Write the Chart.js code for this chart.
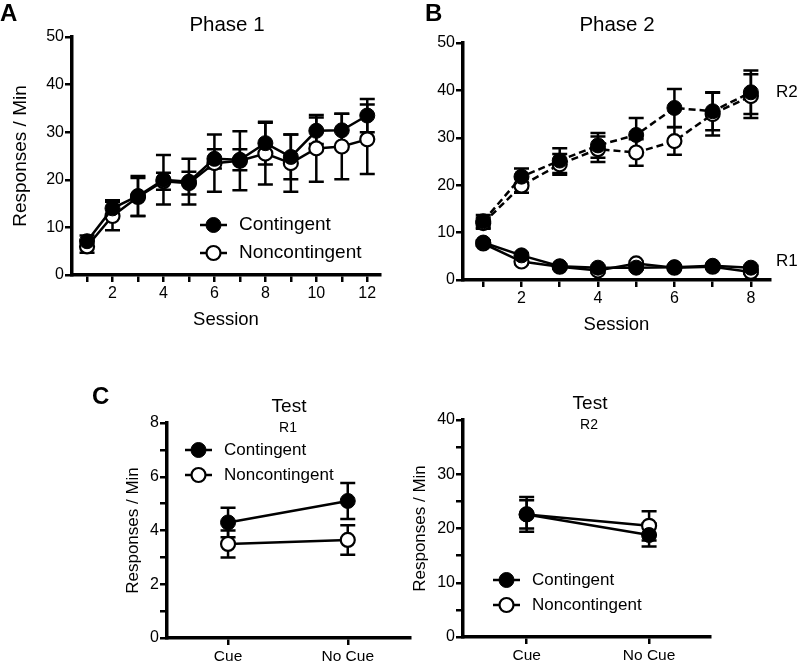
<!DOCTYPE html>
<html>
<head>
<meta charset="utf-8">
<script src="https://cdn.jsdelivr.net/npm/chart.js@4.4.0/dist/chart.umd.min.js"></script>
<style>
  body { margin: 0; background: #fff; }
  #wrap { position: relative; width: 800px; height: 663px; overflow: hidden; }
  .panel { position: absolute; }
</style>
</head>
<body>
<div id="wrap">
  <div class="panel" style="left:0;top:0"><canvas id="chartA" width="400" height="340"></canvas></div>
  <div class="panel" style="left:400px;top:0"><canvas id="chartB" width="400" height="340"></canvas></div>
  <div class="panel" style="left:80px;top:360px"><canvas id="chartC1" width="340" height="303"></canvas></div>
  <div class="panel" style="left:400px;top:360px"><canvas id="chartC2" width="320" height="303"></canvas></div>
</div>
<script>
// Phase 1 (A)
const phase1Sessions = [1, 2, 3, 4, 5, 6, 7, 8, 9, 10, 11, 12];
const phase1Contingent = [7.1, 14.0, 16.6, 20.0, 19.6, 24.4, 24.2, 27.7, 24.8, 30.3, 30.4, 33.5];
const phase1ContingentErr = [1.2, 1.7, 4.2, 5.2, 4.8, 2.0, 2.2, 4.5, 4.7, 2.8, 3.5, 3.5];
const phase1Noncontingent = [6.0, 12.4, 16.4, 19.7, 19.3, 23.5, 24.0, 25.5, 23.5, 26.6, 27.0, 28.5];
const phase1NoncontingentErr = [1.3, 3.0, 4.0, 1.8, 2.4, 6.0, 6.2, 6.5, 6.0, 7.0, 6.9, 7.3];

// Phase 2 (B)
const phase2Sessions = [1, 2, 3, 4, 5, 6, 7, 8];
const phase2R2Contingent = [12.4, 21.8, 25.2, 28.4, 30.6, 36.3, 35.6, 39.6];
const phase2R2ContingentErr = [1.3, 1.7, 2.6, 2.6, 3.6, 4.0, 4.0, 4.6];
const phase2R2Noncontingent = [12.0, 19.9, 24.4, 27.6, 26.9, 29.3, 35.0, 38.8];
const phase2R2NoncontingentErr = [1.2, 1.5, 2.2, 2.7, 2.8, 2.9, 4.5, 4.6];
const phase2R1Contingent = [7.9, 5.2, 2.9, 2.6, 2.6, 2.7, 3.0, 2.6];
const phase2R1Noncontingent = [7.7, 3.9, 2.8, 2.0, 3.5, 2.6, 2.8, 1.7];
const phase2R1Err = [0.5, 0.5, 0.4, 0.4, 0.4, 0.4, 0.4, 0.4];

// Test (C)
const testCategories = ['Cue', 'No Cue'];
const testR1Contingent = [4.3, 5.1];
const testR1ContingentErr = [0.55, 0.67];
const testR1Noncontingent = [3.5, 3.65];
const testR1NoncontingentErr = [0.5, 0.55];
const testR2Contingent = [22.6, 18.8];
const testR2ContingentErr = [3.2, 2.1];
const testR2Noncontingent = [22.6, 20.5];
const testR2NoncontingentErr = [2.6, 2.7];

Chart.defaults.font.family = '"Liberation Sans", Arial, sans-serif';
Chart.defaults.color = '#000';

const toPoints = (xs, ys) => ys.map((v, i) => ({ x: xs[i], y: v }));

function series(label, xs, ys, errs, filled, dashed) {
  return {
    label: label,
    data: toPoints(xs, ys),
    errors: errs,
    borderColor: '#000',
    borderWidth: 2.5,
    borderDash: dashed ? [7, 4] : [],
    pointRadius: filled ? 7.5 : 7,
    pointHoverRadius: 7.5,
    pointBackgroundColor: filled ? '#000' : '#fff',
    pointBorderColor: '#000',
    pointBorderWidth: filled ? 1 : 2.2,
    tension: 0,
    clip: false
  };
}

// error bars are drawn under the markers
const errorBars = {
  id: 'errorBars',
  beforeDatasetsDraw(chart) {
    const ctx = chart.ctx;
    const yScale = chart.scales.y;
    chart.data.datasets.forEach((ds, di) => {
      if (!ds.errors) return;
      const meta = chart.getDatasetMeta(di);
      ctx.save();
      ctx.strokeStyle = '#000';
      ctx.lineWidth = 2.5;
      meta.data.forEach((pt, i) => {
        const v = ds.data[i].y, e = ds.errors[i];
        const top = yScale.getPixelForValue(v + e);
        const bot = yScale.getPixelForValue(v - e);
        ctx.beginPath();
        ctx.moveTo(pt.x, top); ctx.lineTo(pt.x, bot);
        ctx.moveTo(pt.x - 7.5, top); ctx.lineTo(pt.x + 7.5, top);
        ctx.moveTo(pt.x - 7.5, bot); ctx.lineTo(pt.x + 7.5, bot);
        ctx.stroke();
      });
      ctx.restore();
    });
  }
};

function textPlugin(items) {
  return {
    id: 'panelText',
    afterDraw(chart) {
      const ctx = chart.ctx;
      items.forEach(t => {
        ctx.save();
        ctx.font = t.font;
        ctx.fillStyle = '#000';
        ctx.textAlign = t.align || 'center';
        ctx.textBaseline = 'middle';
        ctx.fillText(t.text, t.x, t.y);
        ctx.restore();
      });
    }
  };
}

function keyPlugin(cfg) {
  return {
    id: 'keyBox',
    afterDraw(chart) {
      const ctx = chart.ctx;
      cfg.labels.forEach((label, k) => {
        const ds = chart.data.datasets.find(d => d.label === label);
        const y = cfg.y + k * cfg.gap;
        ctx.save();
        ctx.strokeStyle = '#000';
        ctx.lineWidth = 2.5;
        ctx.beginPath();
        ctx.moveTo(cfg.x, y); ctx.lineTo(cfg.x + 27, y);
        ctx.stroke();
        ctx.beginPath();
        ctx.arc(cfg.x + 13.5, y, ds.pointRadius, 0, Math.PI * 2);
        ctx.fillStyle = ds.pointBackgroundColor;
        ctx.fill();
        ctx.lineWidth = ds.pointBorderWidth;
        ctx.stroke();
        ctx.font = cfg.font;
        ctx.fillStyle = '#000';
        ctx.textAlign = 'left';
        ctx.textBaseline = 'middle';
        ctx.fillText(label, cfg.x + 39, y);
        ctx.restore();
      });
    }
  };
}

function axes(o) {
  return {
    x: {
      type: 'linear', min: o.xMin, max: o.xMax,
      afterFit: s => { s.height = o.xHeight; },
      border: { display: true, color: '#000', width: 3.5 },
      grid: { drawOnChartArea: false, drawTicks: true, tickLength: 7, color: '#000', lineWidth: 2.5 },
      ticks: { stepSize: 1, includeBounds: false, autoSkip: false, maxRotation: 0, padding: 2,
               font: { size: o.xFont }, callback: o.xLabel },
      title: o.xTitle
        ? { display: true, text: o.xTitle, font: { size: 18.5 }, padding: { top: 0, bottom: o.xTitlePad } }
        : { display: false }
    },
    y: {
      min: o.yMin, max: o.yMax,
      afterFit: s => { s.width = o.yWidth; },
      border: { display: true, color: '#000', width: 3.5 },
      grid: { drawOnChartArea: false, drawTicks: true, tickLength: 7, color: '#000', lineWidth: 2.5 },
      ticks: { stepSize: o.yStep, includeBounds: false, autoSkip: false, padding: 1,
               font: { size: 16 }, callback: o.yLabel },
      title: o.yTitle
        ? { display: true, text: o.yTitle, font: { size: o.yTitleSize }, padding: 0 }
        : { display: false }
    }
  };
}

function makeChart(id, datasets, scales, padding, plugins) {
  return new Chart(document.getElementById(id), {
    type: 'line',
    data: { datasets: datasets },
    options: {
      responsive: false,
      animation: false,
      layout: { padding: padding },
      plugins: { legend: { display: false }, tooltip: { enabled: false } },
      scales: scales
    },
    plugins: [errorBars].concat(plugins)
  });
}

const evenOnly = v => (v % 2 === 0 ? v : '');

// A  (first dataset is drawn on top)
makeChart('chartA', [
  series('Contingent', phase1Sessions, phase1Contingent, phase1ContingentErr, true, false),
  series('Noncontingent', phase1Sessions, phase1Noncontingent, phase1NoncontingentErr, false, false)
], axes({
  xMin: 0.41, xMax: 12.5, xHeight: 65, xFont: 16, xLabel: evenOnly, xTitle: 'Session', xTitlePad: 9,
  yMin: 0, yMax: 50, yStep: 10, yWidth: 63, yTitle: 'Responses / Min', yTitleSize: 19
}), { left: 9, top: 37, right: 20, bottom: 0 }, [
  textPlugin([
    { text: 'A', x: 0, y: 14, font: 'bold 24px "Liberation Sans", Arial', align: 'left' },
    { text: 'Phase 1', x: 227, y: 25, font: '20.5px "Liberation Sans", Arial' }
  ]),
  keyPlugin({ labels: ['Contingent', 'Noncontingent'], x: 200, y: 225, gap: 28, font: '19px "Liberation Sans", Arial' })
]);

// B
makeChart('chartB', [
  series('R2 Contingent', phase2Sessions, phase2R2Contingent, phase2R2ContingentErr, true, true),
  series('R2 Noncontingent', phase2Sessions, phase2R2Noncontingent, phase2R2NoncontingentErr, false, true),
  series('R1 Contingent', phase2Sessions, phase2R1Contingent, phase2R1Err, true, false),
  series('R1 Noncontingent', phase2Sessions, phase2R1Noncontingent, phase2R1Err, false, false)
], axes({
  xMin: 0.47, xMax: 8.5, xHeight: 60, xFont: 16, xLabel: evenOnly, xTitle: 'Session', xTitlePad: 4,
  yMin: 0, yMax: 50, yStep: 10, yWidth: 63
}), { left: 0, top: 43, right: 30, bottom: 0 }, [
  textPlugin([
    { text: 'B', x: 25, y: 14, font: 'bold 24px "Liberation Sans", Arial', align: 'left' },
    { text: 'Phase 2', x: 217, y: 25, font: '20.5px "Liberation Sans", Arial' },
    { text: 'R2', x: 376, y: 92, font: '17px "Liberation Sans", Arial', align: 'left' },
    { text: 'R1', x: 376, y: 261, font: '17px "Liberation Sans", Arial', align: 'left' }
  ])
]);

const catIdx = testCategories.map((c, i) => i);
const catLabel = v => (testCategories[v] !== undefined ? testCategories[v] : '');

// C, R1
makeChart('chartC1', [
  series('Contingent', catIdx, testR1Contingent, testR1ContingentErr, true, false),
  series('Noncontingent', catIdx, testR1Noncontingent, testR1NoncontingentErr, false, false)
], axes({
  xMin: -0.51, xMax: 1.52, xHeight: 25, xFont: 15.5, xLabel: catLabel,
  yMin: 0, yMax: 8, yStep: 1, yWidth: 44, yLabel: evenOnly, yTitle: 'Responses / Min', yTitleSize: 17
}), { left: 43, top: 63, right: 10, bottom: 0 }, [
  textPlugin([
    { text: 'C', x: 12, y: 37, font: 'bold 24px "Liberation Sans", Arial', align: 'left' },
    { text: 'Test', x: 209, y: 47, font: '19px "Liberation Sans", Arial' },
    { text: 'R1', x: 208, y: 68, font: '14px "Liberation Sans", Arial' }
  ]),
  keyPlugin({ labels: ['Contingent', 'Noncontingent'], x: 105, y: 90, gap: 25, font: '17px "Liberation Sans", Arial' })
]);

// C, R2
makeChart('chartC2', [
  series('Contingent', catIdx, testR2Contingent, testR2ContingentErr, true, false),
  series('Noncontingent', catIdx, testR2Noncontingent, testR2NoncontingentErr, false, false)
], axes({
  xMin: -0.52, xMax: 1.5, xHeight: 26, xFont: 15.5, xLabel: catLabel,
  yMin: 0, yMax: 40, yStep: 5, yWidth: 53, yLabel: v => (v % 10 === 0 ? v : ''), yTitle: 'Responses / Min', yTitleSize: 17
}), { left: 10, top: 60, right: 7, bottom: 0 }, [
  textPlugin([
    { text: 'Test', x: 190, y: 44, font: '19px "Liberation Sans", Arial' },
    { text: 'R2', x: 189, y: 65, font: '14px "Liberation Sans", Arial' }
  ]),
  keyPlugin({ labels: ['Contingent', 'Noncontingent'], x: 93, y: 220, gap: 25, font: '17px "Liberation Sans", Arial' })
]);
</script>
</body>
</html>
